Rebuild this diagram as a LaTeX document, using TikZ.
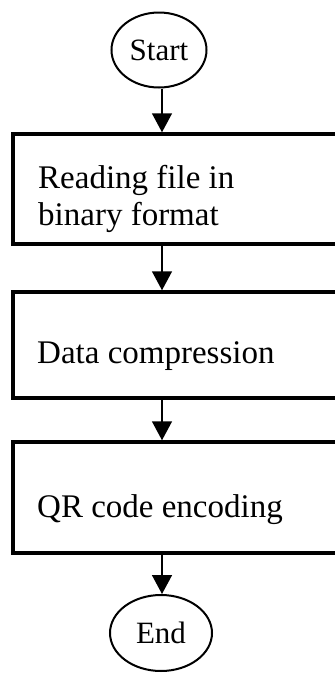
\documentclass[tikz,border=0pt]{standalone}
\usepackage{fontspec}
\setmainfont{Liberation Serif}
\usetikzlibrary{arrows.meta,shapes.geometric}
\tikzset{
  terminal/.style={ellipse, draw, line width=2pt, inner sep=0pt,
    font=\fontsize{31}{37}\selectfont},
  stepbox/.style={rectangle, draw, line width=3.5pt, inner sep=0pt},
  steptext/.style={anchor=base west, inner sep=0pt, align=left,
    font=\fontsize{33}{37}\selectfont},
  flow/.style={line width=1.6pt, -{Triangle[length=19pt,width=20pt]}}
}
\begin{document}
\begin{tikzpicture}[x=1pt,y=-1pt]
  \clip (0,0) rectangle (335,673);
  \fill[white] (0,0) rectangle (335,673);

  % terminals
  \node[terminal, minimum width=95pt, minimum height=75pt] (start) at (159,50) {Start};
  \node[terminal, minimum width=102pt, minimum height=76pt] (end) at (161,633) {End};

  % process boxes (their right sides run past the page edge)
  \node[stepbox, minimum width=347pt, minimum height=110pt] (b1) at (186.5,189) {};
  \node[stepbox, minimum width=347pt, minimum height=106pt] (b2) at (186.5,345) {};
  \node[stepbox, minimum width=347pt, minimum height=111pt] (b3) at (186.5,497.5) {};

  % the base anchor of a two-line node sits on its last line
  \node[steptext] (t1) at (38,225) {Reading file in\\binary format};
  \node[steptext] (t2) at (37,363) {Data compression};
  \node[steptext] (t3) at (37,517) {QR code encoding};

  % connectors
  \coordinate (axis) at (162,0);
  \draw[flow] (start.south -| axis) -- (axis |- b1.north);
  \draw[flow] (axis |- b1.south) -- (axis |- b2.north);
  \draw[flow] (axis |- b2.south) -- (axis |- b3.north);
  \draw[flow] (axis |- b3.south) -- (end.north -| axis);
\end{tikzpicture}
\end{document}
